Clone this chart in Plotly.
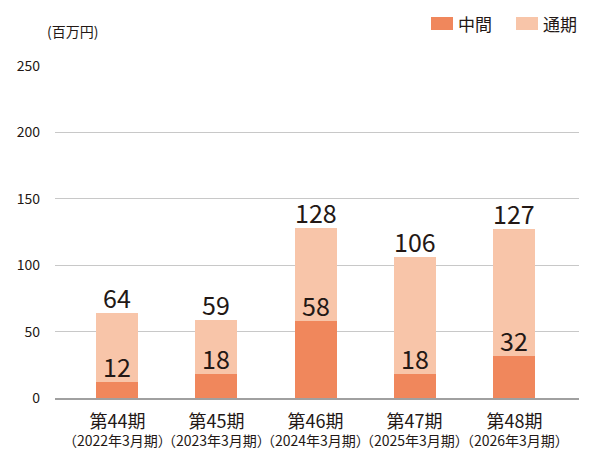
import plotly.graph_objects as go

periods = ["第44期", "第45期", "第46期", "第47期", "第48期"]
fiscal = ["（2022年3月期）", "（2023年3月期）", "（2024年3月期）", "（2025年3月期）", "（2026年3月期）"]
interim = [12, 18, 58, 18, 32]      # 中間
full_year = [64, 59, 128, 106, 127]  # 通期
y_ticks = [0, 50, 100, 150, 200, 250]

DARK = "#F0875C"
LIGHT = "#F8C5A9"
TXT = "#231815"
FONT = "Noto Sans CJK JP"

remainder = [f - i for f, i in zip(full_year, interim)]

fig = go.Figure()
fig.add_trace(go.Bar(x=periods, y=interim, name="中間", marker=dict(color=DARK, line=dict(width=0)),
                     width=0.423, hoverinfo="skip"))
fig.add_trace(go.Bar(x=periods, y=remainder, name="通期", marker=dict(color=LIGHT, line=dict(width=0)),
                     width=0.423, hoverinfo="skip"))

PT, PB, PL, PW = 66, 398, 55, 524


def py(pix):
    return (PB - pix) / (PB - PT)


def px(pix):
    return (pix - PL) / PW


ann = []
for p, f, i in zip(periods, full_year, interim):
    ann.append(dict(x=p, y=f, xref="x", yref="y", text=str(f), showarrow=False,
                    yanchor="bottom", yshift=-4, font=dict(size=25, color=TXT, family=FONT)))
    ann.append(dict(x=p, y=i, xref="x", yref="y", text=str(i), showarrow=False,
                    yanchor="bottom", yshift=-4, font=dict(size=25, color=TXT, family=FONT)))
for p, fy in zip(periods, fiscal):
    ann.append(dict(x=p, y=py(428), xref="x", yref="paper",
                    text=f"<span style='font-size:18px'>{p}</span><br>{fy}", showarrow=False,
                    yanchor="middle", font=dict(size=14, color=TXT, family=FONT)))

ann.append(dict(x=px(45), y=py(31), xref="paper", yref="paper",
                text="(百万円)", showarrow=False, xanchor="left", yanchor="middle",
                font=dict(size=14, color=TXT, family=FONT)))

# legend drawn manually
shapes = []
for x0, col, label in [(431, DARK, "中間"), (516, LIGHT, "通期")]:
    shapes.append(dict(type="rect", xref="paper", yref="paper",
                       x0=px(x0), x1=px(x0 + 22),
                       y0=py(30), y1=py(17),
                       fillcolor=col, line=dict(width=0)))
    ann.append(dict(x=px(x0 + 25), y=py(23.5), xref="paper", yref="paper",
                    text=label, showarrow=False, xanchor="left", yanchor="middle",
                    font=dict(size=17, color=TXT, family=FONT)))

fig.update_layout(
    width=600, height=475,
    margin=dict(l=PL, r=600 - PL - PW, t=PT, b=475 - PB),
    barmode="stack",
    showlegend=False,
    plot_bgcolor="white", paper_bgcolor="white",
    font=dict(family=FONT, color=TXT),
    annotations=ann,
    shapes=shapes,
    xaxis=dict(range=[-0.625, 4.655], showticklabels=False, showgrid=False,
               showline=True, linecolor="#A0A0A0", linewidth=2, ticks="", fixedrange=True),
    yaxis=dict(range=[0, 250], tickvals=y_ticks, showgrid=True, gridcolor="#C8C8C8", gridwidth=1,
               zeroline=False, showline=False, ticks="", ticklabelstandoff=14,
               tickfont=dict(size=14, color=TXT, family=FONT), fixedrange=True),
)

fig.write_html("out.html")
